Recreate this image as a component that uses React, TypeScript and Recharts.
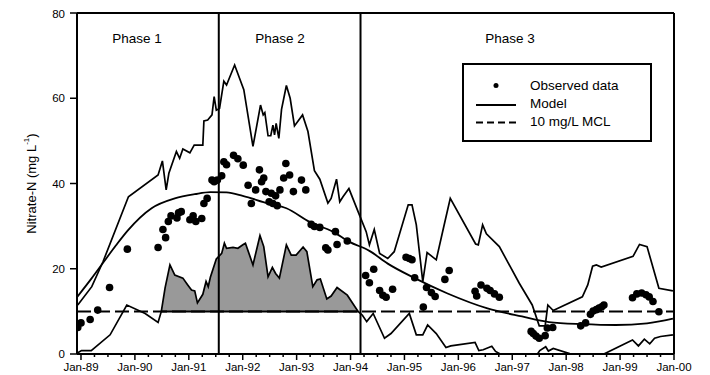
import {
  ComposedChart,
  XAxis,
  YAxis,
  Line,
  Area,
  Scatter,
  ReferenceLine,
  ReferenceDot,
  Legend,
} from 'recharts';

const FONT = '"Liberation Sans", Arial, sans-serif';

// upper bound of the model (decimal year, mg/L)
const upperBound: [number, number][] = [
  [1988.94, 11.5], [1989.2, 15.8], [1989.41, 21.7], [1989.88, 36.9], [1990.43, 42.0],
  [1990.51, 45.3], [1990.58, 38.5], [1990.63, 42.4], [1990.77, 47.5], [1990.83, 45.9],
  [1990.89, 48.1], [1991.02, 47.2], [1991.1, 49.0], [1991.26, 49.0], [1991.28, 54.7],
  [1991.35, 54.9], [1991.43, 56.1], [1991.47, 60.4], [1991.51, 57.2], [1991.57, 57.6],
  [1991.65, 64.0], [1991.7, 63.1], [1991.85, 67.8], [1992.02, 62.0], [1992.19, 48.7],
  [1992.33, 58.4], [1992.38, 56.1], [1992.41, 56.6], [1992.47, 51.2], [1992.52, 51.2],
  [1992.56, 53.7], [1992.59, 51.4], [1992.62, 54.1], [1992.67, 50.6], [1992.72, 57.4],
  [1992.81, 63.0], [1992.88, 60.0], [1992.96, 53.5], [1993.11, 56.1], [1993.21, 52.2],
  [1993.33, 43.0], [1993.43, 41.0], [1993.58, 35.4], [1993.64, 36.5], [1993.74, 41.0],
  [1993.8, 35.7], [1993.86, 36.9], [1993.97, 38.8], [1994.14, 33.4], [1994.29, 28.7],
  [1994.35, 25.6], [1994.44, 29.2], [1994.54, 23.6], [1994.69, 22.4], [1994.81, 24.0],
  [1995.07, 35.0], [1995.14, 35.0], [1995.22, 30.3], [1995.34, 17.0], [1995.42, 23.8],
  [1995.59, 22.1], [1995.73, 29.9], [1995.85, 36.5], [1996.32, 25.8], [1996.37, 25.6],
  [1996.45, 30.3], [1996.52, 28.2], [1996.76, 25.2], [1997.13, 16.6], [1997.37, 11.5],
  [1997.5, 6.6], [1997.61, 6.6], [1997.66, 11.5], [1997.76, 10.2], [1998.3, 13.4],
  [1998.4, 16.2], [1998.49, 20.6], [1998.56, 20.9], [1998.65, 20.4], [1999.24, 22.9],
  [1999.36, 25.7], [1999.5, 25.2], [1999.72, 15.4], [1999.98, 14.8],
];

// lower bound of the model
const lowerBound: [number, number][] = [
  [1988.94, 0.3], [1989.01, 0.8], [1989.19, 0.8], [1989.54, 4.5], [1989.85, 11.5],
  [1990.19, 9.5], [1990.43, 7.4], [1990.49, 10.0], [1990.56, 15.5], [1990.65, 20.9],
  [1990.74, 18.5], [1990.89, 17.8], [1990.98, 16.2], [1991.05, 15.0], [1991.11, 14.8],
  [1991.16, 12.0], [1991.26, 14.0], [1991.32, 17.0], [1991.36, 15.8], [1991.4, 18.0],
  [1991.51, 22.3], [1991.61, 23.6], [1991.66, 26.0], [1991.7, 24.8], [1991.82, 25.0],
  [1991.91, 24.8], [1992.01, 25.7], [1992.05, 26.0], [1992.19, 20.9], [1992.32, 27.8],
  [1992.39, 25.2], [1992.47, 18.1], [1992.55, 20.3], [1992.61, 18.9], [1992.68, 17.8],
  [1992.81, 25.6], [1992.9, 23.2], [1992.99, 23.2], [1993.12, 25.1], [1993.19, 24.0],
  [1993.3, 15.8], [1993.38, 17.4], [1993.44, 17.6], [1993.56, 12.9], [1993.64, 13.6],
  [1993.75, 15.6], [1993.94, 13.8], [1994.14, 10.0], [1994.22, 9.1], [1994.3, 7.6],
  [1994.42, 9.5], [1994.63, 3.7], [1994.75, 4.8], [1995.09, 9.5], [1995.22, 4.5],
  [1995.34, 4.5], [1995.43, 6.8], [1995.59, 4.8], [1995.77, 1.5], [1995.86, 1.9],
  [1996.31, 2.7], [1996.38, 0.8], [1996.46, 1.0], [1996.62, 1.8], [1996.69, 0.6],
  [1996.85, -0.5], [1997.17, -3.0], [1997.44, -0.5], [1997.51, 0.8], [1997.62, 1.7],
  [1997.67, 0.7], [1997.76, 1.3], [1998.06, 0.1], [1998.33, -3.0], [1998.7, 0.0],
  [1999.23, 3.3], [1999.34, 1.9], [1999.45, 3.5], [1999.55, 2.4], [1999.64, 3.7],
  [1999.75, 4.1], [1999.98, 4.5],
];

// model prediction
const modelCurve: [number, number][] = [
  [1988.93, 13.4], [1989.2, 17.8], [1989.41, 21.4], [1989.65, 25.5], [1989.87, 29.0],
  [1990.31, 34.2], [1990.74, 36.5], [1991.11, 37.5], [1991.4, 38.0], [1991.7, 37.9],
  [1992.0, 37.1], [1992.47, 35.3], [1992.81, 34.2], [1993.24, 31.0], [1993.67, 28.7],
  [1993.98, 26.3], [1994.35, 24.2], [1994.69, 21.2], [1995.19, 17.8], [1995.8, 14.2],
  [1996.54, 10.7], [1997.18, 8.8], [1997.68, 7.5], [1998.3, 7.0], [1998.92, 6.8],
  [1999.5, 7.2], [1999.98, 8.3],
];

// observed nitrate-N
const observed: [number, number][] = [
  [1988.94, 6.2], [1989.0, 7.3], [1989.17, 8.1], [1989.31, 10.3], [1989.53, 15.6],
  [1989.86, 24.6], [1990.43, 25.0], [1990.52, 29.2], [1990.57, 27.3], [1990.62, 31.1],
  [1990.67, 32.4], [1990.78, 31.9], [1990.81, 33.1], [1990.86, 33.4], [1991.02, 31.5],
  [1991.08, 32.4], [1991.13, 31.1], [1991.24, 31.8], [1991.28, 35.3], [1991.34, 36.5],
  [1991.43, 40.8], [1991.47, 40.4], [1991.53, 40.8], [1991.61, 41.8], [1991.65, 45.1],
  [1991.7, 44.4], [1991.83, 46.6], [1991.91, 45.8], [1992.01, 44.3], [1992.1, 39.6],
  [1992.16, 35.3], [1992.24, 38.5], [1992.31, 43.2], [1992.35, 40.4], [1992.39, 41.3],
  [1992.43, 38.1], [1992.49, 35.7], [1992.53, 37.7], [1992.56, 35.3], [1992.61, 37.1],
  [1992.64, 34.8], [1992.69, 38.5], [1992.76, 41.3], [1992.8, 44.7], [1992.87, 42.0],
  [1992.94, 38.1], [1993.09, 40.8], [1993.17, 38.5], [1993.27, 30.4], [1993.33, 29.9],
  [1993.43, 29.7], [1993.54, 24.9], [1993.58, 24.4], [1993.72, 28.7], [1993.75, 25.7],
  [1993.94, 26.5], [1994.28, 18.4], [1994.35, 16.7], [1994.43, 19.9], [1994.54, 14.9],
  [1994.6, 13.8], [1994.66, 13.3], [1994.78, 15.2], [1995.03, 22.7], [1995.09, 22.4],
  [1995.14, 22.1], [1995.19, 17.9], [1995.35, 11.0], [1995.41, 15.6], [1995.5, 14.4],
  [1995.57, 13.5], [1995.75, 17.5], [1995.83, 19.6], [1996.31, 14.7], [1996.34, 13.6],
  [1996.42, 16.2], [1996.53, 15.4], [1996.59, 14.9], [1996.67, 14.1], [1996.76, 13.3],
  [1997.35, 5.3], [1997.39, 4.8], [1997.44, 4.2], [1997.5, 3.7], [1997.61, 4.3],
  [1997.65, 6.1], [1997.75, 6.2], [1998.27, 6.6], [1998.36, 7.3], [1998.45, 9.3],
  [1998.5, 10.1], [1998.56, 10.4], [1998.61, 10.8], [1998.66, 11.1], [1998.7, 11.5],
  [1999.23, 13.2], [1999.31, 14.1], [1999.4, 14.3], [1999.48, 13.9], [1999.54, 13.4],
  [1999.61, 12.3], [1999.72, 9.9],
];

const MCL = 10;
const exceedStart = 1990.49;
const exceedEnd = 1994.14;

const yTicks = [0, 20, 40, 60, 80];
const yearTicks = [1989, 1990, 1991, 1992, 1993, 1994, 1995, 1996, 1997, 1998, 1999, 2000];
const yearLabels = ['Jan-89', 'Jan-90', 'Jan-91', 'Jan-92', 'Jan-93', 'Jan-94', 'Jan-95', 'Jan-96', 'Jan-97', 'Jan-98', 'Jan-99', 'Jan-00'];

const phaseBreaks = [1991.556, 1994.185];
const phaseNames = ['Phase 1', 'Phase 2', 'Phase 3'];
const phaseLabelX = [1990.04, 1992.69, 1996.96];

const toPts = (arr: [number, number][]) => arr.map(([x, y]) => ({ x, y }));

// quarterly minor ticks between the years
const allTicks = yearTicks.flatMap((y, i) =>
  i < yearTicks.length - 1 ? [y, y + 0.25, y + 0.5, y + 0.75] : [y]
);

const YearTick = ({ x, y, payload }: any) => {
  const idx = yearTicks.indexOf(payload.value);
  const major = idx >= 0;
  return (
    <g>
      <line x1={x} x2={x} y1={y} y2={y + (major ? 6 : 3)} stroke="#000" strokeWidth={1.5} />
      {major && (
        <text x={x} y={y + 17} textAnchor="middle" fontSize={11.5} fontFamily={FONT} fill="#000">
          {yearLabels[idx]}
        </text>
      )}
    </g>
  );
};

const YTitle = ({ viewBox }: any) => {
  const cx = viewBox.x + 23;
  const cy = viewBox.y + viewBox.height / 2;
  return (
    <text
      x={cx}
      y={cy}
      transform={`rotate(-90 ${cx} ${cy})`}
      textAnchor="middle"
      dominantBaseline="central"
      fontSize={13}
      fontFamily={FONT}
      fill="#000"
    >
      Nitrate-N (mg L
      <tspan dy={-5} fontSize={8}>-1</tspan>
      <tspan dy={5}>)</tspan>
    </text>
  );
};

const LegendBox = () => (
  <div
    style={{
      width: 190,
      height: 79,
      boxSizing: 'border-box',
      border: '2px solid #000',
      background: '#fff',
      fontFamily: FONT,
      fontSize: 13.5,
      position: 'relative',
    }}
  >
    <svg width={60} height={75} style={{ position: 'absolute', left: 0, top: 0 }}>
      <circle cx={32} cy={20.5} r={2.5} fill="#000" />
      <line x1={12} x2={52} y1={40} y2={40} stroke="#000" strokeWidth={2} />
      <line x1={12} x2={52} y1={57.5} y2={57.5} stroke="#000" strokeWidth={2} strokeDasharray="7 4" />
    </svg>
    {['Observed data', 'Model', '10 mg/L MCL'].map((t, i) => (
      <div
        key={t}
        style={{ position: 'absolute', left: 66, top: 12 + i * 18, lineHeight: '17px', whiteSpace: 'nowrap' }}
      >
        {t}
      </div>
    ))}
  </div>
);

export default function App() {
  return (
    <ComposedChart
      width={694}
      height={367}
      margin={{ top: 5, right: 28, bottom: 0, left: 0 }}
    >
      <XAxis
        type="number"
        dataKey="x"
        domain={[1988.926, 2000]}
        allowDataOverflow
        ticks={allTicks}
        interval={0}
        tick={<YearTick />}
        tickSize={0}
        tickMargin={0}
        axisLine={{ stroke: '#000', strokeWidth: 2 }}
        height={21}
      />
      <YAxis
        type="number"
        dataKey="y"
        domain={[0, 80]}
        allowDataOverflow
        ticks={yTicks}
        width={69}
        tickSize={7}
        tickMargin={5}
        tick={{ fontSize: 11.5, fill: '#000', fontFamily: FONT }}
        tickLine={{ stroke: '#000', strokeWidth: 1.5 }}
        axisLine={{ stroke: '#000', strokeWidth: 2 }}
        label={<YTitle />}
      />
      <Area
        data={toPts(lowerBound.filter(([x]) => x >= exceedStart && x <= exceedEnd))}
        dataKey="y"
        type="linear"
        baseValue={MCL}
        fill="#999999"
        fillOpacity={1}
        stroke="none"
        isAnimationActive={false}
      />
      <ReferenceLine y={MCL} stroke="#000" strokeWidth={2} strokeDasharray="14 5" />
      <ReferenceLine
        segment={[{ x: exceedStart, y: MCL }, { x: exceedEnd, y: MCL }]}
        stroke="#000"
        strokeWidth={2}
      />
      {phaseBreaks.map((b) => (
        <ReferenceLine key={b} x={b} stroke="#000" strokeWidth={2} />
      ))}
      <ReferenceLine y={80} stroke="#000" strokeWidth={2} />
      <ReferenceLine x={2000} stroke="#000" strokeWidth={2} />
      {phaseNames.map((name, i) => (
        <ReferenceDot
          key={name}
          x={phaseLabelX[i]}
          y={74.1}
          r={0}
          stroke="none"
          label={{ value: name, position: 'center', fontSize: 13.5, fill: '#000', fontFamily: FONT }}
        />
      ))}
      <Line
        data={toPts(upperBound)}
        dataKey="y"
        type="linear"
        stroke="#000"
        strokeWidth={1.7}
        dot={false}
        isAnimationActive={false}
      />
      <Line
        data={toPts(lowerBound)}
        dataKey="y"
        type="linear"
        stroke="#000"
        strokeWidth={1.7}
        dot={false}
        isAnimationActive={false}
      />
      <Line
        data={toPts(modelCurve)}
        dataKey="y"
        type="monotone"
        stroke="#000"
        strokeWidth={1.8}
        dot={false}
        isAnimationActive={false}
      />
      <Scatter
        data={toPts(observed)}
        dataKey="y"
        fill="#000"
        isAnimationActive={false}
        shape={(p: any) => <circle cx={p.cx} cy={p.cy} r={3.8} fill="#000" />}
      />
      <Legend
        layout="vertical"
        align="center"
        verticalAlign="middle"
        content={<LegendBox />}
        wrapperStyle={{ left: 454, top: 55, width: 190, height: 79 }}
      />
    </ComposedChart>
  );
}
